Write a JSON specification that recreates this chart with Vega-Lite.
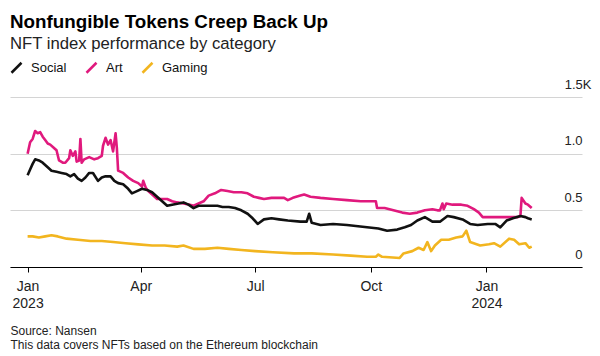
{
  "$schema": "https://vega.github.io/schema/vega-lite/v6.json",
  "width": 572,
  "height": 170,
  "autosize": {"type": "none"},
  "padding": {"left": 10, "top": 97, "right": 18, "bottom": 89},
  "background": "white",
  "config": {
    "font": "Liberation Sans",
    "view": {"stroke": null}
  },
  "title": {
    "text": "Nonfungible Tokens Creep Back Up",
    "subtitle": "NFT index performance by category",
    "anchor": "start",
    "frame": "group",
    "offset": 42,
    "dy": 34,
    "fontSize": 18.8,
    "fontWeight": "bold",
    "color": "#000000",
    "subtitleFontSize": 16.7,
    "subtitleColor": "#222222",
    "subtitlePadding": 5
  },
  "datasets": {
    "nft": [
      {"date": "2023-01-01", "cat": "Art", "v": 1.00},
      {"date": "2023-01-03", "cat": "Art", "v": 1.10},
      {"date": "2023-01-05", "cat": "Art", "v": 1.13},
      {"date": "2023-01-07", "cat": "Art", "v": 1.20},
      {"date": "2023-01-09", "cat": "Art", "v": 1.18},
      {"date": "2023-01-11", "cat": "Art", "v": 1.19},
      {"date": "2023-01-13", "cat": "Art", "v": 1.15},
      {"date": "2023-01-15", "cat": "Art", "v": 1.12},
      {"date": "2023-01-17", "cat": "Art", "v": 1.09},
      {"date": "2023-01-19", "cat": "Art", "v": 1.08},
      {"date": "2023-01-22", "cat": "Art", "v": 1.05},
      {"date": "2023-01-24", "cat": "Art", "v": 1.03},
      {"date": "2023-01-26", "cat": "Art", "v": 0.94},
      {"date": "2023-01-29", "cat": "Art", "v": 0.92},
      {"date": "2023-01-31", "cat": "Art", "v": 0.92},
      {"date": "2023-02-03", "cat": "Art", "v": 0.96},
      {"date": "2023-02-04", "cat": "Art", "v": 1.03},
      {"date": "2023-02-06", "cat": "Art", "v": 0.98},
      {"date": "2023-02-08", "cat": "Art", "v": 1.02},
      {"date": "2023-02-09", "cat": "Art", "v": 0.93},
      {"date": "2023-02-11", "cat": "Art", "v": 0.94},
      {"date": "2023-02-12", "cat": "Art", "v": 1.13},
      {"date": "2023-02-13", "cat": "Art", "v": 0.92},
      {"date": "2023-02-15", "cat": "Art", "v": 0.95},
      {"date": "2023-02-19", "cat": "Art", "v": 0.97},
      {"date": "2023-02-23", "cat": "Art", "v": 0.95},
      {"date": "2023-02-26", "cat": "Art", "v": 0.96},
      {"date": "2023-03-01", "cat": "Art", "v": 0.98},
      {"date": "2023-03-02", "cat": "Art", "v": 1.07},
      {"date": "2023-03-04", "cat": "Art", "v": 1.14},
      {"date": "2023-03-06", "cat": "Art", "v": 1.08},
      {"date": "2023-03-08", "cat": "Art", "v": 1.12},
      {"date": "2023-03-10", "cat": "Art", "v": 1.02},
      {"date": "2023-03-12", "cat": "Art", "v": 1.18},
      {"date": "2023-03-13", "cat": "Art", "v": 1.05},
      {"date": "2023-03-14", "cat": "Art", "v": 0.85},
      {"date": "2023-03-18", "cat": "Art", "v": 0.83},
      {"date": "2023-03-22", "cat": "Art", "v": 0.79},
      {"date": "2023-03-26", "cat": "Art", "v": 0.76},
      {"date": "2023-03-30", "cat": "Art", "v": 0.74},
      {"date": "2023-04-02", "cat": "Art", "v": 0.71},
      {"date": "2023-04-03", "cat": "Art", "v": 0.76},
      {"date": "2023-04-05", "cat": "Art", "v": 0.70},
      {"date": "2023-04-07", "cat": "Art", "v": 0.67},
      {"date": "2023-04-11", "cat": "Art", "v": 0.63},
      {"date": "2023-04-14", "cat": "Art", "v": 0.60},
      {"date": "2023-04-18", "cat": "Art", "v": 0.60},
      {"date": "2023-04-22", "cat": "Art", "v": 0.60},
      {"date": "2023-04-26", "cat": "Art", "v": 0.58},
      {"date": "2023-04-30", "cat": "Art", "v": 0.57},
      {"date": "2023-05-05", "cat": "Art", "v": 0.56},
      {"date": "2023-05-10", "cat": "Art", "v": 0.55},
      {"date": "2023-05-13", "cat": "Art", "v": 0.54},
      {"date": "2023-05-17", "cat": "Art", "v": 0.56},
      {"date": "2023-05-21", "cat": "Art", "v": 0.58},
      {"date": "2023-05-25", "cat": "Art", "v": 0.63},
      {"date": "2023-05-30", "cat": "Art", "v": 0.65},
      {"date": "2023-06-04", "cat": "Art", "v": 0.68},
      {"date": "2023-06-09", "cat": "Art", "v": 0.67},
      {"date": "2023-06-14", "cat": "Art", "v": 0.66},
      {"date": "2023-06-20", "cat": "Art", "v": 0.66},
      {"date": "2023-06-25", "cat": "Art", "v": 0.65},
      {"date": "2023-06-30", "cat": "Art", "v": 0.62},
      {"date": "2023-07-04", "cat": "Art", "v": 0.61},
      {"date": "2023-07-08", "cat": "Art", "v": 0.60},
      {"date": "2023-07-14", "cat": "Art", "v": 0.61},
      {"date": "2023-07-19", "cat": "Art", "v": 0.61},
      {"date": "2023-07-24", "cat": "Art", "v": 0.61},
      {"date": "2023-07-27", "cat": "Art", "v": 0.59},
      {"date": "2023-07-31", "cat": "Art", "v": 0.61},
      {"date": "2023-08-06", "cat": "Art", "v": 0.63},
      {"date": "2023-08-09", "cat": "Art", "v": 0.64},
      {"date": "2023-08-14", "cat": "Art", "v": 0.62},
      {"date": "2023-08-22", "cat": "Art", "v": 0.61},
      {"date": "2023-09-01", "cat": "Art", "v": 0.60},
      {"date": "2023-09-12", "cat": "Art", "v": 0.59},
      {"date": "2023-09-23", "cat": "Art", "v": 0.58},
      {"date": "2023-10-02", "cat": "Art", "v": 0.58},
      {"date": "2023-10-05", "cat": "Art", "v": 0.58},
      {"date": "2023-10-06", "cat": "Art", "v": 0.52},
      {"date": "2023-10-12", "cat": "Art", "v": 0.52},
      {"date": "2023-10-19", "cat": "Art", "v": 0.50},
      {"date": "2023-10-26", "cat": "Art", "v": 0.48},
      {"date": "2023-11-01", "cat": "Art", "v": 0.47},
      {"date": "2023-11-07", "cat": "Art", "v": 0.48},
      {"date": "2023-11-13", "cat": "Art", "v": 0.50},
      {"date": "2023-11-19", "cat": "Art", "v": 0.51},
      {"date": "2023-11-23", "cat": "Art", "v": 0.50},
      {"date": "2023-11-25", "cat": "Art", "v": 0.50},
      {"date": "2023-11-27", "cat": "Art", "v": 0.56},
      {"date": "2023-11-28", "cat": "Art", "v": 0.51},
      {"date": "2023-11-30", "cat": "Art", "v": 0.56},
      {"date": "2023-12-05", "cat": "Art", "v": 0.55},
      {"date": "2023-12-12", "cat": "Art", "v": 0.55},
      {"date": "2023-12-17", "cat": "Art", "v": 0.54},
      {"date": "2023-12-22", "cat": "Art", "v": 0.51},
      {"date": "2023-12-26", "cat": "Art", "v": 0.48},
      {"date": "2023-12-29", "cat": "Art", "v": 0.44},
      {"date": "2024-01-05", "cat": "Art", "v": 0.44},
      {"date": "2024-01-12", "cat": "Art", "v": 0.44},
      {"date": "2024-01-20", "cat": "Art", "v": 0.44},
      {"date": "2024-01-26", "cat": "Art", "v": 0.44},
      {"date": "2024-01-28", "cat": "Art", "v": 0.45},
      {"date": "2024-01-29", "cat": "Art", "v": 0.61},
      {"date": "2024-02-01", "cat": "Art", "v": 0.56},
      {"date": "2024-02-03", "cat": "Art", "v": 0.55},
      {"date": "2024-02-06", "cat": "Art", "v": 0.52},

      {"date": "2023-01-01", "cat": "Social", "v": 0.81},
      {"date": "2023-01-03", "cat": "Social", "v": 0.86},
      {"date": "2023-01-05", "cat": "Social", "v": 0.91},
      {"date": "2023-01-07", "cat": "Social", "v": 0.95},
      {"date": "2023-01-10", "cat": "Social", "v": 0.94},
      {"date": "2023-01-13", "cat": "Social", "v": 0.92},
      {"date": "2023-01-17", "cat": "Social", "v": 0.88},
      {"date": "2023-01-20", "cat": "Social", "v": 0.85},
      {"date": "2023-01-24", "cat": "Social", "v": 0.84},
      {"date": "2023-01-28", "cat": "Social", "v": 0.83},
      {"date": "2023-02-01", "cat": "Social", "v": 0.82},
      {"date": "2023-02-04", "cat": "Social", "v": 0.80},
      {"date": "2023-02-07", "cat": "Social", "v": 0.82},
      {"date": "2023-02-10", "cat": "Social", "v": 0.78},
      {"date": "2023-02-13", "cat": "Social", "v": 0.76},
      {"date": "2023-02-16", "cat": "Social", "v": 0.79},
      {"date": "2023-02-19", "cat": "Social", "v": 0.83},
      {"date": "2023-02-22", "cat": "Social", "v": 0.83},
      {"date": "2023-02-26", "cat": "Social", "v": 0.76},
      {"date": "2023-03-01", "cat": "Social", "v": 0.79},
      {"date": "2023-03-04", "cat": "Social", "v": 0.80},
      {"date": "2023-03-08", "cat": "Social", "v": 0.80},
      {"date": "2023-03-11", "cat": "Social", "v": 0.76},
      {"date": "2023-03-14", "cat": "Social", "v": 0.74},
      {"date": "2023-03-18", "cat": "Social", "v": 0.73},
      {"date": "2023-03-22", "cat": "Social", "v": 0.69},
      {"date": "2023-03-25", "cat": "Social", "v": 0.65},
      {"date": "2023-03-29", "cat": "Social", "v": 0.67},
      {"date": "2023-04-02", "cat": "Social", "v": 0.69},
      {"date": "2023-04-06", "cat": "Social", "v": 0.68},
      {"date": "2023-04-10", "cat": "Social", "v": 0.66},
      {"date": "2023-04-14", "cat": "Social", "v": 0.62},
      {"date": "2023-04-18", "cat": "Social", "v": 0.58},
      {"date": "2023-04-22", "cat": "Social", "v": 0.54},
      {"date": "2023-04-26", "cat": "Social", "v": 0.55},
      {"date": "2023-05-01", "cat": "Social", "v": 0.56},
      {"date": "2023-05-05", "cat": "Social", "v": 0.57},
      {"date": "2023-05-09", "cat": "Social", "v": 0.55},
      {"date": "2023-05-13", "cat": "Social", "v": 0.52},
      {"date": "2023-05-17", "cat": "Social", "v": 0.54},
      {"date": "2023-05-23", "cat": "Social", "v": 0.54},
      {"date": "2023-06-01", "cat": "Social", "v": 0.54},
      {"date": "2023-06-05", "cat": "Social", "v": 0.53},
      {"date": "2023-06-10", "cat": "Social", "v": 0.53},
      {"date": "2023-06-15", "cat": "Social", "v": 0.52},
      {"date": "2023-06-20", "cat": "Social", "v": 0.50},
      {"date": "2023-06-25", "cat": "Social", "v": 0.47},
      {"date": "2023-06-29", "cat": "Social", "v": 0.43},
      {"date": "2023-07-03", "cat": "Social", "v": 0.38},
      {"date": "2023-07-08", "cat": "Social", "v": 0.42},
      {"date": "2023-07-14", "cat": "Social", "v": 0.43},
      {"date": "2023-07-20", "cat": "Social", "v": 0.42},
      {"date": "2023-07-27", "cat": "Social", "v": 0.41},
      {"date": "2023-08-06", "cat": "Social", "v": 0.40},
      {"date": "2023-08-11", "cat": "Social", "v": 0.40},
      {"date": "2023-08-13", "cat": "Social", "v": 0.47},
      {"date": "2023-08-15", "cat": "Social", "v": 0.39},
      {"date": "2023-08-22", "cat": "Social", "v": 0.37},
      {"date": "2023-09-01", "cat": "Social", "v": 0.38},
      {"date": "2023-09-12", "cat": "Social", "v": 0.37},
      {"date": "2023-09-28", "cat": "Social", "v": 0.35},
      {"date": "2023-10-07", "cat": "Social", "v": 0.34},
      {"date": "2023-10-14", "cat": "Social", "v": 0.32},
      {"date": "2023-10-22", "cat": "Social", "v": 0.33},
      {"date": "2023-10-28", "cat": "Social", "v": 0.35},
      {"date": "2023-11-02", "cat": "Social", "v": 0.37},
      {"date": "2023-11-07", "cat": "Social", "v": 0.41},
      {"date": "2023-11-13", "cat": "Social", "v": 0.44},
      {"date": "2023-11-19", "cat": "Social", "v": 0.40},
      {"date": "2023-11-25", "cat": "Social", "v": 0.40},
      {"date": "2023-12-01", "cat": "Social", "v": 0.45},
      {"date": "2023-12-06", "cat": "Social", "v": 0.44},
      {"date": "2023-12-13", "cat": "Social", "v": 0.42},
      {"date": "2023-12-19", "cat": "Social", "v": 0.38},
      {"date": "2023-12-25", "cat": "Social", "v": 0.37},
      {"date": "2024-01-02", "cat": "Social", "v": 0.38},
      {"date": "2024-01-08", "cat": "Social", "v": 0.38},
      {"date": "2024-01-12", "cat": "Social", "v": 0.35},
      {"date": "2024-01-17", "cat": "Social", "v": 0.41},
      {"date": "2024-01-22", "cat": "Social", "v": 0.43},
      {"date": "2024-01-28", "cat": "Social", "v": 0.45},
      {"date": "2024-02-01", "cat": "Social", "v": 0.44},
      {"date": "2024-02-03", "cat": "Social", "v": 0.43},
      {"date": "2024-02-06", "cat": "Social", "v": 0.42},

      {"date": "2023-01-01", "cat": "Gaming", "v": 0.27},
      {"date": "2023-01-05", "cat": "Gaming", "v": 0.27},
      {"date": "2023-01-10", "cat": "Gaming", "v": 0.26},
      {"date": "2023-01-15", "cat": "Gaming", "v": 0.27},
      {"date": "2023-01-20", "cat": "Gaming", "v": 0.28},
      {"date": "2023-01-25", "cat": "Gaming", "v": 0.27},
      {"date": "2023-02-01", "cat": "Gaming", "v": 0.25},
      {"date": "2023-02-10", "cat": "Gaming", "v": 0.24},
      {"date": "2023-02-20", "cat": "Gaming", "v": 0.23},
      {"date": "2023-03-01", "cat": "Gaming", "v": 0.23},
      {"date": "2023-03-10", "cat": "Gaming", "v": 0.22},
      {"date": "2023-03-20", "cat": "Gaming", "v": 0.21},
      {"date": "2023-03-30", "cat": "Gaming", "v": 0.20},
      {"date": "2023-04-10", "cat": "Gaming", "v": 0.19},
      {"date": "2023-04-20", "cat": "Gaming", "v": 0.19},
      {"date": "2023-04-30", "cat": "Gaming", "v": 0.18},
      {"date": "2023-05-05", "cat": "Gaming", "v": 0.19},
      {"date": "2023-05-13", "cat": "Gaming", "v": 0.16},
      {"date": "2023-05-22", "cat": "Gaming", "v": 0.16},
      {"date": "2023-06-01", "cat": "Gaming", "v": 0.17},
      {"date": "2023-06-10", "cat": "Gaming", "v": 0.16},
      {"date": "2023-06-20", "cat": "Gaming", "v": 0.15},
      {"date": "2023-07-01", "cat": "Gaming", "v": 0.14},
      {"date": "2023-07-15", "cat": "Gaming", "v": 0.13},
      {"date": "2023-08-01", "cat": "Gaming", "v": 0.12},
      {"date": "2023-08-15", "cat": "Gaming", "v": 0.12},
      {"date": "2023-09-01", "cat": "Gaming", "v": 0.11},
      {"date": "2023-09-15", "cat": "Gaming", "v": 0.10},
      {"date": "2023-09-28", "cat": "Gaming", "v": 0.09},
      {"date": "2023-10-05", "cat": "Gaming", "v": 0.09},
      {"date": "2023-10-07", "cat": "Gaming", "v": 0.11},
      {"date": "2023-10-10", "cat": "Gaming", "v": 0.09},
      {"date": "2023-10-24", "cat": "Gaming", "v": 0.08},
      {"date": "2023-10-27", "cat": "Gaming", "v": 0.12},
      {"date": "2023-11-03", "cat": "Gaming", "v": 0.14},
      {"date": "2023-11-08", "cat": "Gaming", "v": 0.17},
      {"date": "2023-11-12", "cat": "Gaming", "v": 0.15},
      {"date": "2023-11-15", "cat": "Gaming", "v": 0.22},
      {"date": "2023-11-18", "cat": "Gaming", "v": 0.14},
      {"date": "2023-11-21", "cat": "Gaming", "v": 0.19},
      {"date": "2023-11-26", "cat": "Gaming", "v": 0.24},
      {"date": "2023-12-02", "cat": "Gaming", "v": 0.24},
      {"date": "2023-12-08", "cat": "Gaming", "v": 0.26},
      {"date": "2023-12-13", "cat": "Gaming", "v": 0.27},
      {"date": "2023-12-16", "cat": "Gaming", "v": 0.32},
      {"date": "2023-12-19", "cat": "Gaming", "v": 0.22},
      {"date": "2023-12-27", "cat": "Gaming", "v": 0.19},
      {"date": "2024-01-03", "cat": "Gaming", "v": 0.20},
      {"date": "2024-01-07", "cat": "Gaming", "v": 0.21},
      {"date": "2024-01-12", "cat": "Gaming", "v": 0.18},
      {"date": "2024-01-19", "cat": "Gaming", "v": 0.25},
      {"date": "2024-01-23", "cat": "Gaming", "v": 0.24},
      {"date": "2024-01-27", "cat": "Gaming", "v": 0.20},
      {"date": "2024-02-01", "cat": "Gaming", "v": 0.21},
      {"date": "2024-02-04", "cat": "Gaming", "v": 0.17},
      {"date": "2024-02-06", "cat": "Gaming", "v": 0.18}
    ]
  },
  "data": {"name": "nft"},
  "mark": {"type": "line", "strokeWidth": 2.6, "strokeJoin": "round"},
  "encoding": {
    "x": {
      "field": "date",
      "type": "temporal",
      "scale": {
        "type": "utc",
        "domain": [
          {"year": 2022, "month": 12, "date": 18, "utc": true},
          {"year": 2024, "month": 3, "date": 17, "utc": true}
        ]
      },
      "axis": {
        "values": [
          {"year": 2023, "month": 1, "date": 1, "utc": true},
          {"year": 2023, "month": 4, "date": 1, "utc": true},
          {"year": 2023, "month": 7, "date": 1, "utc": true},
          {"year": 2023, "month": 10, "date": 1, "utc": true},
          {"year": 2024, "month": 1, "date": 1, "utc": true}
        ],
        "labelExpr": "utcmonth(datum.value) == 0 ? [utcFormat(datum.value, '%b'), utcFormat(datum.value, '%Y')] : utcFormat(datum.value, '%b')",
        "labelFontSize": 14,
        "labelColor": "#222222",
        "labelLineHeight": 17,
        "labelPadding": 7,
        "labelFlush": false,
        "labelOverlap": false,
        "domainColor": "#000000",
        "domainWidth": 1,
        "tickColor": "#000000",
        "tickSize": 5,
        "grid": false,
        "title": ["Source: Nansen", "This data covers NFTs based on the Ethereum blockchain"],
        "titleFontSize": 12,
        "titleFontWeight": "normal",
        "titleColor": "#222222",
        "titleAnchor": "start",
        "titleAlign": "left",
        "titleBaseline": "top",
        "titleLineHeight": 14,
        "titleX": 0,
        "titleY": 58
      }
    },
    "y": {
      "field": "v",
      "type": "quantitative",
      "scale": {"domain": [0, 1.5], "nice": false, "zero": true},
      "axis": {
        "orient": "right",
        "values": [0, 0.5, 1, 1.5],
        "labelExpr": "datum.value == 1.5 ? '1.5K' : datum.value == 0 ? '0' : format(datum.value, '.1f')",
        "labelAlign": "right",
        "labelBaseline": "alphabetic",
        "labelOffset": -9,
        "labelPadding": {"condition": {"test": "datum.value == 1.5", "value": 9}, "value": 0},
        "labelFontSize": 13,
        "labelColor": "#222222",
        "ticks": false,
        "tickSize": 0,
        "domain": false,
        "grid": true,
        "gridColor": "#d4d4d4",
        "gridWidth": 1,
        "title": null
      }
    },
    "color": {
      "field": "cat",
      "type": "nominal",
      "scale": {"domain": ["Social", "Art", "Gaming"], "range": ["#111111", "#e0197d", "#f2b51f"]},
      "legend": {
        "orient": "none",
        "legendX": 0,
        "legendY": -36,
        "direction": "horizontal",
        "title": null,
        "symbolType": "M-1,1L1,-1",
        "symbolSize": 100,
        "symbolStrokeWidth": 2.5,
        "labelFontSize": 13,
        "labelColor": "#111111",
        "labelOffset": 8,
        "columnPadding": 14
      }
    }
  }
}
